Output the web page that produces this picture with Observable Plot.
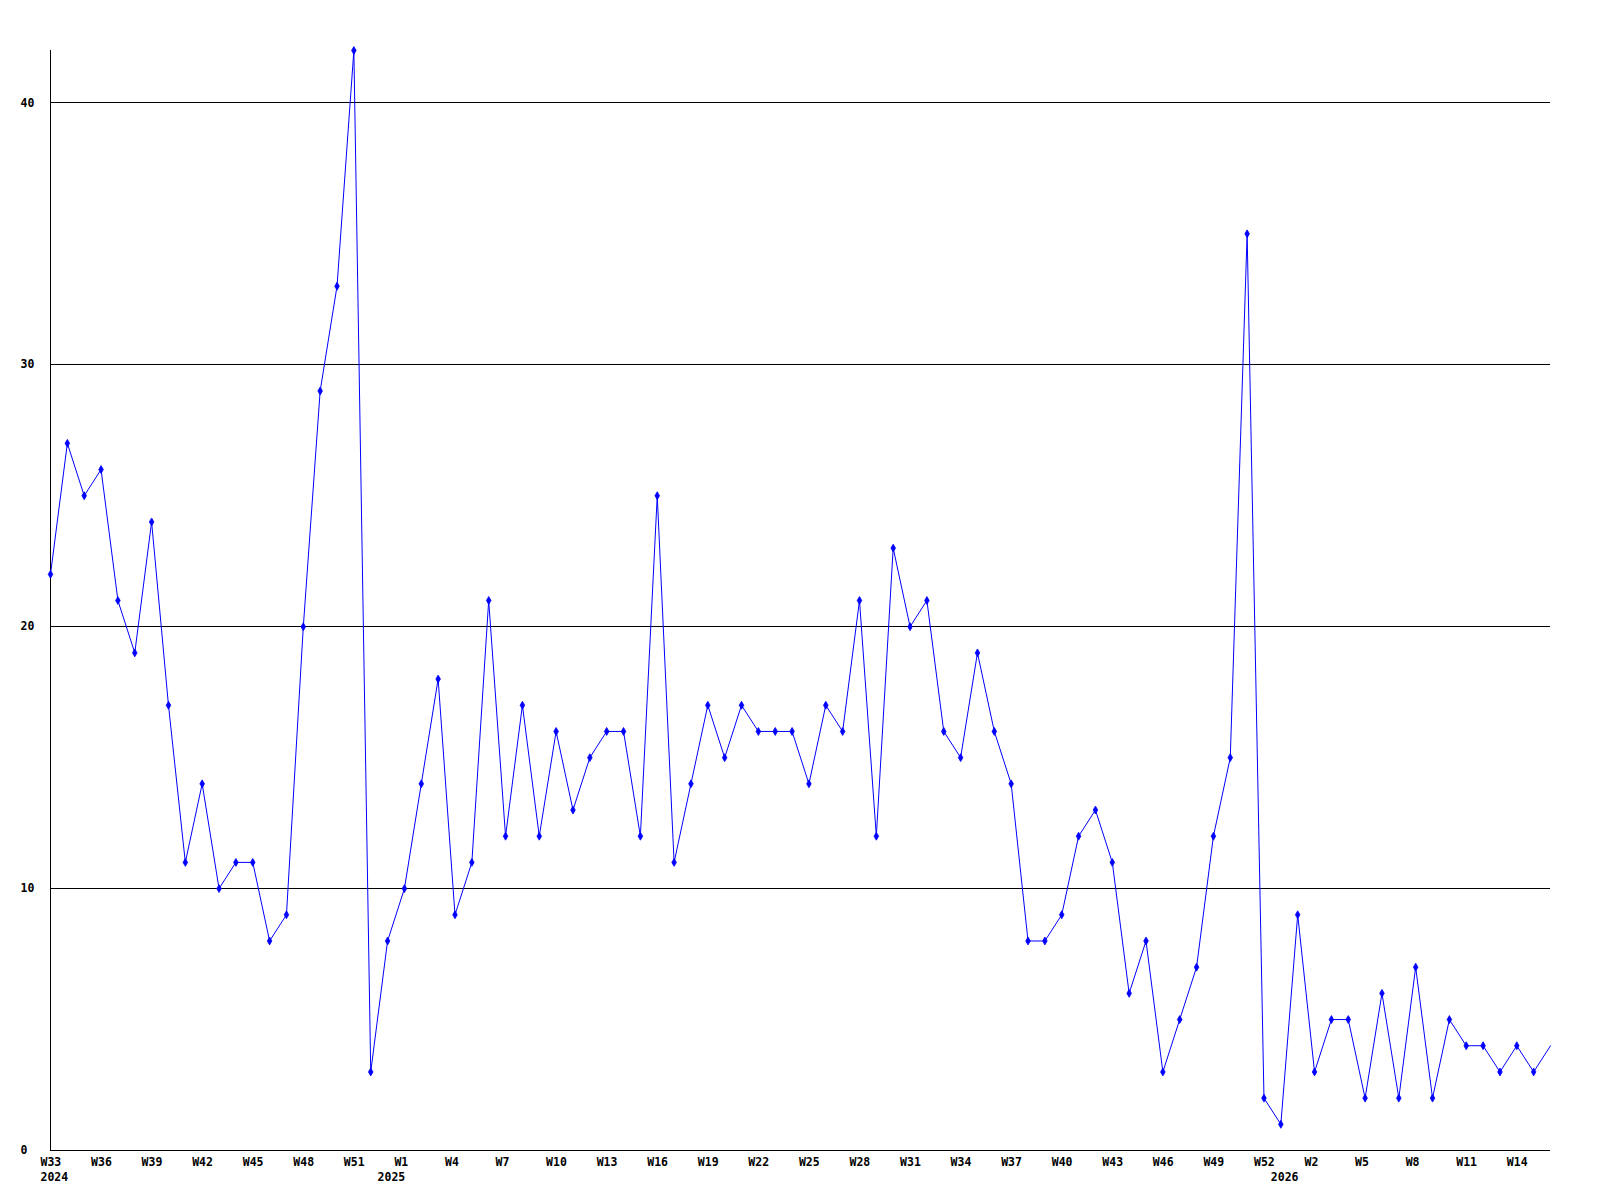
<!DOCTYPE html>
<html>
<head>
<meta charset="utf-8">
<script src="https://cdn.jsdelivr.net/npm/d3@7"></script>
<script src="https://cdn.jsdelivr.net/npm/@observablehq/plot@0.6"></script>
<style>
  html, body { margin: 0; padding: 0; background: #fff; }
  #chart svg { display: block; }
</style>
</head>
<body>
<div id="chart"></div>
<script>
// Week keys (year-week), one per data point
const weekKeys = [
  "2024-W33","2024-W34","2024-W35","2024-W36","2024-W37","2024-W38","2024-W39","2024-W40","2024-W41","2024-W42",
  "2024-W43","2024-W44","2024-W45","2024-W46","2024-W47","2024-W48","2024-W49","2024-W50","2024-W51","2024-W52",
  "2024-W53",
  "2025-W1","2025-W2","2025-W3","2025-W4","2025-W5","2025-W6","2025-W7","2025-W8","2025-W9","2025-W10",
  "2025-W11","2025-W12","2025-W13","2025-W14","2025-W15","2025-W16","2025-W17","2025-W18","2025-W19","2025-W20",
  "2025-W21","2025-W22","2025-W23","2025-W24","2025-W25","2025-W26","2025-W27","2025-W28","2025-W29","2025-W30",
  "2025-W31","2025-W32","2025-W33","2025-W34","2025-W35","2025-W36","2025-W37","2025-W38","2025-W39","2025-W40",
  "2025-W41","2025-W42","2025-W43","2025-W44","2025-W45","2025-W46","2025-W47","2025-W48","2025-W49","2025-W50",
  "2025-W51","2025-W52","2025-W53",
  "2026-W1","2026-W2","2026-W3","2026-W4","2026-W5","2026-W6","2026-W7","2026-W8","2026-W9","2026-W10",
  "2026-W11","2026-W12","2026-W13","2026-W14","2026-W15","2026-W16"
];

// Weekly values
const values = [
  22, 27, 25, 26, 21, 19, 24, 17, 11, 14,
  10, 11, 11, 8, 9, 20, 29, 33, 42, 3,
  8,
  10, 14, 18, 9, 11, 21, 12, 17, 12, 16,
  13, 15, 16, 16, 12, 25, 11, 14, 17, 15,
  17, 16, 16, 16, 14, 17, 16, 21, 12, 23,
  20, 21, 16, 15, 19, 16, 14, 8, 8, 9,
  12, 13, 11, 6, 8, 3, 5, 7, 12, 15,
  35, 2, 1,
  9, 3, 5, 5, 2, 6, 2, 7, 2, 5,
  4, 4, 3, 4, 3, 4
];

// Y tick values
const yTicks = [0, 10, 20, 30, 40];
const yGrid = [10, 20, 30, 40];

// Year labels and the week they are attached to
const yearLabels = ["2024", "2025", "2026"];
const yearAt = ["2024-W33", "2024-W53", "2025-W53"];

const data = weekKeys.map((k, i) => ({i, key: k, week: k.split("-")[1], value: values[i]}));
const keyIndex = new Map(data.map(d => [d.key, d.i]));
const xTickData = data.filter(d => d.i % 3 === 0);
const yearData = yearLabels.map((y, j) => ({label: y, i: keyIndex.get(yearAt[j])}));
const last = data.length - 1;

const font = "'DejaVu Sans Mono', 'Liberation Mono', monospace";

const chart = Plot.plot({
  width: 1600,
  height: 1200,
  marginLeft: 50,
  marginRight: 50,
  marginTop: 50,
  marginBottom: 50,
  style: {background: "#fff", fontFamily: font},
  x: {type: "linear", domain: [0, last], axis: null},
  y: {type: "linear", domain: [0, 42], axis: null},
  marks: [
    Plot.ruleY(yGrid, {x1: 0, x2: last, stroke: "#000", strokeWidth: 1, shapeRendering: "crispEdges"}),
    Plot.ruleY([0], {x1: 0, x2: last, stroke: "#000", strokeWidth: 1, shapeRendering: "crispEdges"}),
    Plot.ruleX([0], {y1: 0, y2: 42, stroke: "#000", strokeWidth: 1, shapeRendering: "crispEdges"}),
    Plot.lineY(data, {x: "i", y: "value", stroke: "#0000ff", strokeWidth: 1, curve: "linear"}),
    Plot.dot(data.filter(d => d.i < last), {x: "i", y: "value", symbol: "diamond", r: 2.4, fill: "#0000ff", stroke: "#0000ff", strokeWidth: 0.8}),
    Plot.text(yTicks, {x: 0, y: d => d, text: d => String(d), textAnchor: "start", dx: -30, fontSize: 11.5, fontWeight: "bold", fill: "#000", fontFamily: font}),
    Plot.text(xTickData, {x: "i", y: 0, text: "week", textAnchor: "start", dx: -10, dy: 12, fontSize: 11.5, fontWeight: "bold", fill: "#000", fontFamily: font}),
    Plot.text(yearData, {x: "i", y: 0, text: "label", textAnchor: "start", dx: -10, dy: 27, fontSize: 11.5, fontWeight: "bold", fill: "#000", fontFamily: font})
  ]
});
document.getElementById("chart").appendChild(chart);
</script>
</body>
</html>
